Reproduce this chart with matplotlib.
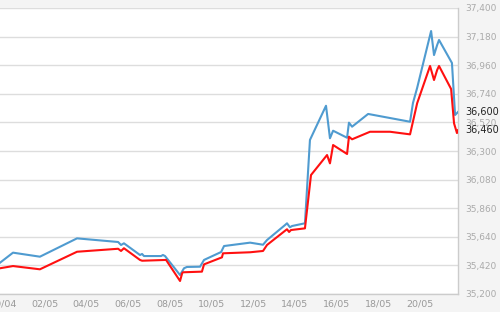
import matplotlib
matplotlib.use("Agg")
import matplotlib.pyplot as plt

# x = days since 30/04
blue_x = [-0.14, 0.48, 1.77, 3.55, 5.52, 5.66, 5.80, 6.57, 6.67, 6.76, 7.58, 7.67, 7.77,
          8.49, 8.68, 8.82, 9.45, 9.64, 10.46, 10.60, 11.85, 12.47, 12.66, 13.53, 13.62,
          13.76, 13.86, 14.48, 14.72, 15.49, 15.68, 15.83, 16.50, 16.59, 16.74, 17.51,
          19.52, 19.66, 19.86, 20.53, 20.67, 20.82, 20.91, 21.53, 21.68, 21.82]
blue_y = [35441, 35518, 35487, 35628, 35600, 35577, 35590, 35500, 35508, 35492, 35492, 35500, 35492,
          35346, 35398, 35408, 35410, 35462, 35523, 35569, 35595, 35579, 35615, 35731, 35744,
          35713, 35723, 35744, 36385, 36648, 36398, 36456, 36402, 36518, 36487, 36585,
          36525, 36669, 36785, 37223, 37038, 37115, 37154, 36977, 36577, 36600]

red_x = [-0.14, 0.48, 1.77, 3.55, 5.52, 5.66, 5.80, 6.57, 6.67, 7.82, 8.49, 8.59, 8.63,
         9.54, 9.64, 10.50, 10.55, 11.85, 12.47, 12.66, 13.53, 13.62, 13.72, 13.81, 14.48,
         14.77, 15.54, 15.68, 15.83, 16.50, 16.59, 16.74, 17.60, 18.56, 19.52, 19.86,
         20.48, 20.67, 20.82, 20.91, 21.49, 21.63, 21.77, 21.82]
red_y = [35398, 35415, 35390, 35525, 35548, 35531, 35552, 35462, 35456, 35462, 35300, 35359, 35367,
         35372, 35428, 35482, 35513, 35521, 35531, 35577, 35687, 35698, 35677, 35692, 35705,
         36115, 36269, 36205, 36346, 36277, 36410, 36390, 36448, 36448, 36428, 36667,
         36954, 36846, 36923, 36954, 36777, 36513, 36438, 36460]

x_ticks = [0, 2, 4, 6, 8, 10, 12, 14, 16, 18, 20]
x_labels = ['30/04', '02/05', '04/05', '06/05', '08/05', '10/05', '12/05', '14/05', '16/05', '18/05', '20/05']
y_ticks = [35200, 35420, 35640, 35860, 36080, 36300, 36520, 36740, 36960, 37180, 37400]
last_labels = [36600, 36460]

fig = plt.figure(figsize=(5, 3.12), dpi=100, facecolor='#f4f4f4')
ax = fig.add_axes([0, 1 - 294 / 312, 458 / 500, (294 - 8) / 312])
ax.set_facecolor('white')

ax.plot(blue_x, blue_y, color='#4f9bd0', lw=1.5, zorder=3)
ax.plot(red_x, red_y, color='#ff1010', lw=1.5, zorder=4)

ax.set_xlim(-0.144, 21.82)
ax.set_ylim(35200, 37400)
ax.set_xticks(x_ticks)
ax.set_xticklabels(x_labels)
ax.set_yticks(y_ticks)
ax.set_yticklabels([f'{v:,}' for v in y_ticks])
ax.yaxis.tick_right()
ax.tick_params(axis='y', length=0, pad=5.5, labelsize=6.5, labelcolor='#aaaaaa')
ax.tick_params(axis='x', length=0, pad=4, labelsize=6.8, labelcolor='#999999')

ax.grid(axis='y', color='#dddddd', lw=1)
ax.set_axisbelow(True)
for s in ['left', 'top']:
    ax.spines[s].set_visible(False)
for s in ['bottom', 'right']:
    ax.spines[s].set_color('#cccccc')
    ax.spines[s].set_linewidth(1)

for v in last_labels:
    ax.text(1.016, v, f'{v:,}', transform=ax.get_yaxis_transform(), ha='left', va='center',
            fontsize=7, color='#222222', zorder=5)

fig.savefig('out.png', dpi=100, facecolor=fig.get_facecolor())
